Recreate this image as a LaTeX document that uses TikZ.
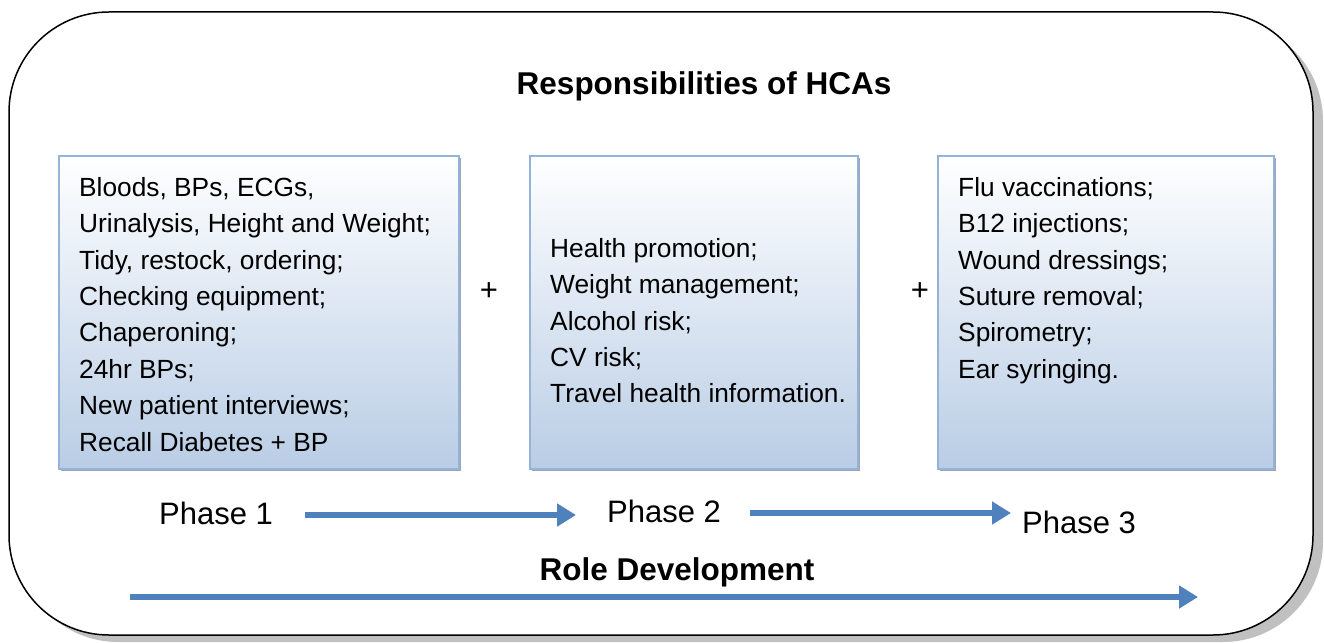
\documentclass[tikz,border=0pt]{standalone}
\usepackage{fontspec}
\setmainfont{Liberation Sans}
\usetikzlibrary{arrows.meta,calc}
\definecolor{arrblue}{HTML}{4F81BD}
\definecolor{boxborder}{HTML}{95B3D7}
\definecolor{boxbottom}{HTML}{B9CDE5}
\definecolor{boxshadow}{HTML}{9AA6B8}
\definecolor{outershadow}{HTML}{C0C0C0}
\begin{document}
\begin{tikzpicture}[x=1pt,y=-1pt,
  phasebox/.style={draw=boxborder, line width=1.5pt, shading=axis, top color=white, bottom color=boxbottom, minimum width=#1, minimum height=313pt, inner sep=0pt, anchor=north west},
  boxshade/.style={fill=boxshadow, draw=none},
  itemtext/.style={anchor=north west, align=left, inner sep=0pt, font=\fontsize{26.3}{36.4}\selectfont},
  label/.style={inner sep=0pt, font=\fontsize{31}{34}\selectfont},
  heading/.style={inner sep=0pt, font=\bfseries\fontsize{31.5}{34}\selectfont},
  plus/.style={inner sep=0pt, font=\fontsize{31}{34}\selectfont},
  arr/.style={draw=arrblue, line width=6.5pt, -{Triangle[length=19pt,width=22pt]}}
]
\useasboundingbox (0,0) rectangle (1324,642);
% outer frame with shadow
\fill[outershadow, rounded corners=100pt] (18,21) rectangle (1323,642);
\draw[fill=white, line width=1.5pt, rounded corners=100pt] (9,12) rectangle (1313,635);
\node[heading] (title) at (704,86) {Responsibilities of HCAs};
% box shadows
\fill[boxshade] (61,158) rectangle (461,471);
\fill[boxshade] (532,158) rectangle (860,471);
\fill[boxshade] (940,158) rectangle (1276,471);
% boxes
\node[phasebox=400pt] (b1) at (58,155) {};
\node[phasebox=328pt] (b2) at (529,155) {};
\node[phasebox=336pt] (b3) at (937,155) {};
\node[itemtext] (t1) at ($(b1.north west)+(21,22)$) {Bloods, BPs, ECGs,\\Urinalysis, Height and Weight;\\Tidy, restock, ordering;\\Checking equipment;\\Chaperoning;\\24hr BPs;\\New patient interviews;\\Recall Diabetes + BP};
\node[itemtext] (t2) at ($(b2.north west)+(21,83)$) {Health promotion;\\Weight management;\\Alcohol risk;\\CV risk;\\Travel health information.};
\node[itemtext] (t3) at ($(b3.north west)+(21,22)$) {Flu vaccinations;\\B12 injections;\\Wound dressings;\\Suture removal;\\Spirometry;\\Ear syringing.};
\node[plus] (plus1) at (489,292) {+};
\node[plus] (plus2) at (920,292) {+};
% phases
\node[label] (p1) at (216,513) {Phase 1};
\node[label] (p2) at (664,511) {Phase 2};
\node[label] (p3) at (1079,522) {Phase 3};
\coordinate (a1s) at (305,515);
\coordinate (a1e) at (576,515);
\coordinate (a2s) at (750,513);
\coordinate (a2e) at (1011,513);
\draw[arr] (a1s) -- (a1e);
\draw[arr] (a2s) -- (a2e);
\node[heading] (role) at (677,572) {Role Development};
\coordinate (rs) at (130,597);
\coordinate (re) at (1198,597);
\draw[arr] (rs) -- (re);
\end{tikzpicture}
\end{document}
